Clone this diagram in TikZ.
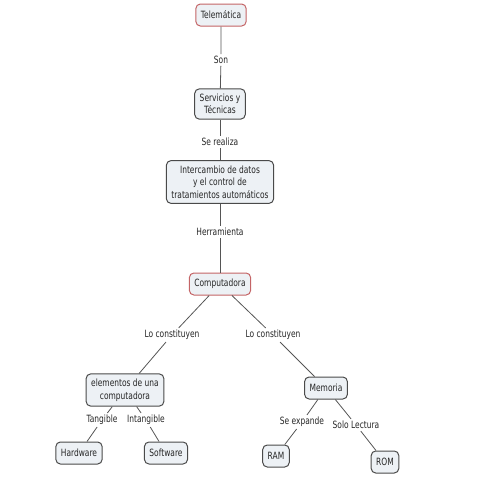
\documentclass[tikz,border=0pt]{standalone}
\usepackage{fontspec}
\setmainfont[FakeStretch=0.75]{DejaVu Sans}
\usetikzlibrary{positioning}
\definecolor{boxfill}{HTML}{EDF1F5}
\definecolor{boxline}{HTML}{4A4A4A}
\definecolor{rootred}{HTML}{C46466}
\definecolor{edgegray}{HTML}{555555}
\begin{document}
\begin{tikzpicture}[x=1pt,y=-1pt]
    \tikzstyle{every node}=[font=\fontsize{10}{12.5}\selectfont, text=black!85];
    \tikzstyle{concept}=[draw=boxline, fill=boxfill, rounded corners=4.5pt, line width=1pt, align=center, inner xsep=5pt, inner ysep=5pt, minimum height=22pt];
    \tikzstyle{rootc}=[concept, draw=rootred];
    \tikzstyle{link}=[inner sep=2pt];
    \tikzstyle{conn}=[draw=edgegray, line width=0.8pt];
    \useasboundingbox (0,0) rectangle (480,480);
    % concepts
    \coordinate (p1) at (221,15);
    \coordinate (p2) at (220,104);
    \coordinate (p3) at (220,182);
    \coordinate (p4) at (220,284);
    \coordinate (p5) at (125,390);
    \coordinate (p6) at (326,388);
    \coordinate (p7) at (79,453);
    \coordinate (p8) at (166,453);
    \coordinate (p9) at (276,456);
    \coordinate (p10) at (385,462);
    \node[rootc] (tele) at (p1) {Telemática};
    \node[concept] (serv) at (p2) {Servicios y\\Técnicas};
    \node[concept] (inter) at (p3) {Intercambio de datos\\y el control de\\tratamientos automáticos};
    \node[rootc] (comp) at (p4) {Computadora};
    \node[concept] (elem) at (p5) {elementos de una\\computadora};
    \node[concept] (mem) at (p6) {Memoria};
    \node[concept] (hard) at (p7) {Hardware};
    \node[concept] (soft) at (p8) {Software};
    \node[concept] (ram) at (p9) {RAM};
    \node[concept] (rom) at (p10) {ROM};
    % linking phrases
    \node[link] (son) at (221,60) {Son};
    \node[link] (real) at (220,142) {Se realiza};
    \node[link] (herr) at (220,232) {Herramienta};
    \node[link] (lcl) at (172,335) {Lo constituyen};
    \node[link] (lcr) at (273,335) {Lo constituyen};
    \node[link] (tang) at (102,420) {Tangible};
    \node[link] (intang) at (146,420) {Intangible};
    \node[link] (expa) at (302,422) {Se expande};
    \node[link] (solo) at (356,425) {Solo Lectura};
    % connectors
    \draw[conn] (tele) -- (son) -- (serv);
    \draw[conn] (serv) -- (real) -- (inter);
    \draw[conn] (inter) -- (herr) -- (comp);
    \draw[conn] (comp) -- (lcl) -- (elem);
    \draw[conn] (comp) -- (lcr) -- (mem);
    \draw[conn] (elem) -- (tang) -- (hard);
    \draw[conn] (elem) -- (intang) -- (soft);
    \draw[conn] (mem) -- (expa) -- (ram);
    \draw[conn] (mem) -- (solo) -- (rom);
\end{tikzpicture}
\end{document}
